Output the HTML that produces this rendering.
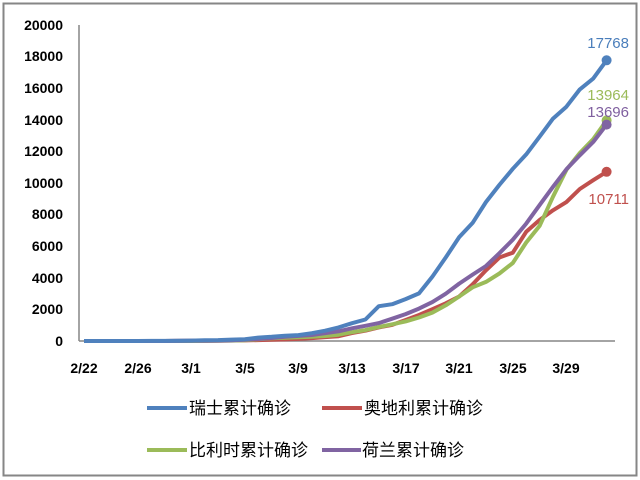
<!DOCTYPE html>
<html><head><meta charset="utf-8"><style>
html,body{margin:0;padding:0;background:#fff;}
svg{display:block;}
text{font-family:"Liberation Sans","Noto Sans CJK SC",sans-serif;}
</style></head><body>
<svg id="s" width="640" height="480" xmlns="http://www.w3.org/2000/svg">
<rect x="3.5" y="3.5" width="633" height="472" fill="#fff" stroke="#868686" stroke-width="2"/>
<line x1="79" y1="25" x2="79" y2="341" stroke="#868686" stroke-width="1.5"/>
<line x1="79" y1="341" x2="615" y2="341" stroke="#868686" stroke-width="1.5"/>
<g font-size="14" font-weight="bold" text-anchor="end" fill="#000">
<text x="63" y="30">20000</text><text x="63" y="61">18000</text><text x="63" y="93">16000</text>
<text x="63" y="125">14000</text><text x="63" y="156">12000</text><text x="63" y="188">10000</text>
<text x="63" y="219">8000</text><text x="63" y="251">6000</text><text x="63" y="283">4000</text>
<text x="63" y="314">2000</text><text x="63" y="346">0</text>
</g>
<g font-size="14" font-weight="bold" text-anchor="middle" fill="#000">
<text x="84" y="373">2/22</text><text x="138" y="373">2/26</text><text x="191" y="373">3/1</text>
<text x="245" y="373">3/5</text><text x="298" y="373">3/9</text><text x="352" y="373">3/13</text>
<text x="406" y="373">3/17</text><text x="459" y="373">3/21</text><text x="513" y="373">3/25</text>
<text x="566" y="373">3/29</text>
</g>
<g id="lines"></g>
<g font-size="15">
<text x="629" y="48" text-anchor="end" fill="#4a7ebb">17768</text>
<text x="629" y="100" text-anchor="end" fill="#9bbb59">13964</text>
<text x="629" y="117" text-anchor="end" fill="#7f5f9f">13696</text>
<text x="629" y="204" text-anchor="end" fill="#c0504d">10711</text>
</g>
<g stroke-width="4">
<line x1="147" y1="408" x2="187" y2="408" stroke="#4f81bd"/>
<line x1="322" y1="408" x2="362" y2="408" stroke="#c0504d"/>
<line x1="147" y1="450" x2="187" y2="450" stroke="#9bbb59"/>
<line x1="322" y1="450" x2="361" y2="450" stroke="#8064a2"/>
</g>
<g font-size="17" fill="#000">
<text x="189" y="414">瑞士累计确诊</text>
<text x="364" y="414">奥地利累计确诊</text>
<text x="189" y="456">比利时累计确诊</text>
<text x="362" y="456">荷兰累计确诊</text>
</g>
</svg>
<script>
var ch=[0,0,0,1,1,8,8,18,27,42,56,90,114,214,268,337,374,491,652,858,1125,1359,2200,2330,2650,3010,4075,5294,6575,7474,8795,9877,10897,11811,12928,14076,14829,15922,16605,17768];
var at=[0,0,0,2,2,3,3,9,14,18,24,29,41,55,79,104,131,182,246,302,504,655,860,1016,1332,1646,2013,2388,2814,3582,4474,5283,5588,6909,7657,8271,8788,9618,10180,10711];
var be=[0,0,0,0,0,0,1,1,2,8,13,23,50,109,169,200,239,267,314,399,559,689,886,1058,1243,1486,1795,2257,2815,3401,3743,4269,4937,6235,7284,9134,10836,11899,12775,13964];
var nl=[0,0,0,0,0,1,2,7,10,18,24,38,82,128,188,265,321,382,503,614,804,959,1135,1413,1705,2051,2460,2994,3631,4204,4749,5560,6412,7431,8603,9762,10866,11750,12595,13696];
var g=document.getElementById('lines'),ns='http://www.w3.org/2000/svg';
function add(d,c){var p=d.map(function(v,i){return (84+13.4*i).toFixed(1)+','+(341-v*0.0158).toFixed(1)}).join(' ');
var l=document.createElementNS(ns,'polyline');l.setAttribute('points',p);l.setAttribute('fill','none');l.setAttribute('stroke',c);l.setAttribute('stroke-width','4');l.setAttribute('stroke-linejoin','round');g.appendChild(l);
var e=document.createElementNS(ns,'circle');e.setAttribute('cx',(84+13.4*39).toFixed(1));e.setAttribute('cy',(341-d[39]*0.0158).toFixed(1));e.setAttribute('r','5');e.setAttribute('fill',c);g.appendChild(e);}
add(at,'#c0504d');add(be,'#9bbb59');add(nl,'#8064a2');add(ch,'#4f81bd');
</script>
</body></html>
